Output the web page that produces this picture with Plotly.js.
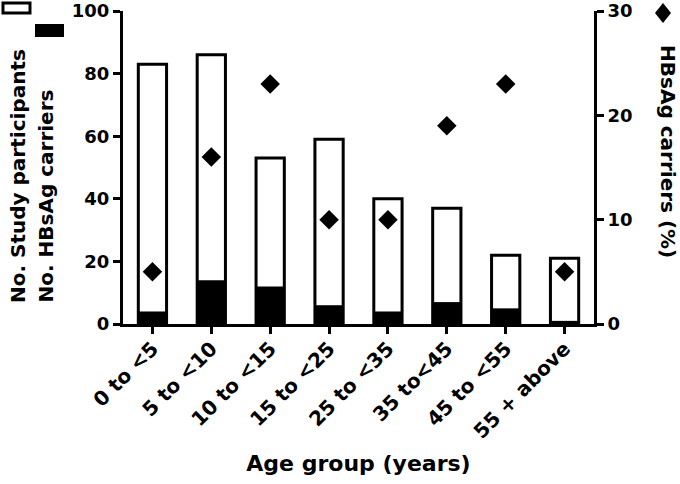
<!DOCTYPE html>
<html>
<head>
<meta charset="utf-8">
<script src="https://cdn.plot.ly/plotly-3.0.1.min.js"></script>
<style>html,body{margin:0;padding:0;background:#fff;}#chart{width:680px;height:484px;}</style>
</head>
<body>
<div id="chart"></div>
<script>
const ageGroups = ["0 to <5", "5 to <10", "10 to <15", "15 to <25", "25 to <35", "35 to<45", "45 to <55", "55 + above"];
const participants = [83, 86, 53, 59, 40, 37, 22, 21];
const carriers = [4, 14, 12, 6, 4, 7, 5, 1];
const carrierPct = [5, 16, 23, 10, 10, 19, 23, 5];

const FONT = "DejaVu Sans, Liberation Sans, Arial, sans-serif";
const bold = (s) => ({family: FONT, size: s, color: "#000", weight: "bold"});

const traces = [
  {type: "bar", x: ageGroups, y: participants, width: 0.48,
   marker: {color: "#fff", line: {color: "#000", width: 3}}, hoverinfo: "skip"},
  {type: "bar", x: ageGroups, y: carriers, width: 0.48,
   marker: {color: "#000", line: {color: "#000", width: 0}}, hoverinfo: "skip"},
  {type: "scatter", mode: "markers", x: ageGroups, y: carrierPct, yaxis: "y2",
   marker: {symbol: "diamond", size: 15, color: "#000"}, hoverinfo: "skip"}
];

const layout = {
  width: 680, height: 484,
  margin: {l: 123, r: 86, t: 11, b: 160},
  paper_bgcolor: "#fff", plot_bgcolor: "#fff",
  font: bold(18),
  showlegend: false,
  barmode: "overlay",
  xaxis: {
    type: "category", range: [-0.5, 7.5],
    showline: true, linecolor: "#000", linewidth: 3,
    ticks: "outside", ticklen: 7, tickwidth: 3, tickcolor: "#000",
    tickangle: -45, tickfont: bold(20), ticklabelstandoff: -5,
    showgrid: false, zeroline: false,
    title: {text: "Age group (years)", font: bold(22), standoff: 14}
  },
  yaxis: {
    range: [0, 100], dtick: 20,
    showline: true, linecolor: "#000", linewidth: 3,
    ticks: "outside", ticklen: 7, tickwidth: 3, tickcolor: "#000",
    tickfont: bold(18), showgrid: false, zeroline: false
  },
  yaxis2: {
    overlaying: "y", side: "right", range: [0, 30], dtick: 10,
    showline: true, linecolor: "#000", linewidth: 3,
    ticks: "outside", ticklen: 7, tickwidth: 3, tickcolor: "#000",
    tickfont: bold(18), showgrid: false, zeroline: false
  },
  annotations: [
    {text: "No. Study participants", textangle: -90, xref: "paper", yref: "paper",
     x: -0.2229, y: 0.0607, xanchor: "center", yanchor: "bottom", showarrow: false, font: bold(20)},
    {text: "No. HBsAg carriers", textangle: -90, xref: "paper", yref: "paper",
     x: -0.1656, y: 0.0607, xanchor: "center", yanchor: "bottom", showarrow: false, font: bold(20)},
    {text: "HBsAg carriers (%)", textangle: 90, xref: "paper", yref: "paper",
     x: 1.157, y: 0.5495, xanchor: "center", yanchor: "middle", showarrow: false, font: bold(20)}
  ],
  shapes: [
    {type: "rect", xref: "paper", yref: "paper", x0: -0.2548, x1: -0.1975, y0: 0.9936, y1: 1.0256,
     line: {color: "#000", width: 3}, fillcolor: "#fff"},
    {type: "rect", xref: "paper", yref: "paper", x0: -0.1868, x1: -0.1253, y0: 0.9169, y1: 0.9585,
     line: {color: "#000", width: 0}, fillcolor: "#000"},
    {type: "path", xref: "paper", yref: "paper",
     path: "M 1.1465 1.0256 L 1.1635 0.9936 L 1.1465 0.9616 L 1.1295 0.9936 Z",
     line: {color: "#000", width: 0}, fillcolor: "#000"}
  ]
};

Plotly.newPlot("chart", traces, layout, {displayModeBar: false, staticPlot: true});
</script>
</body>
</html>
